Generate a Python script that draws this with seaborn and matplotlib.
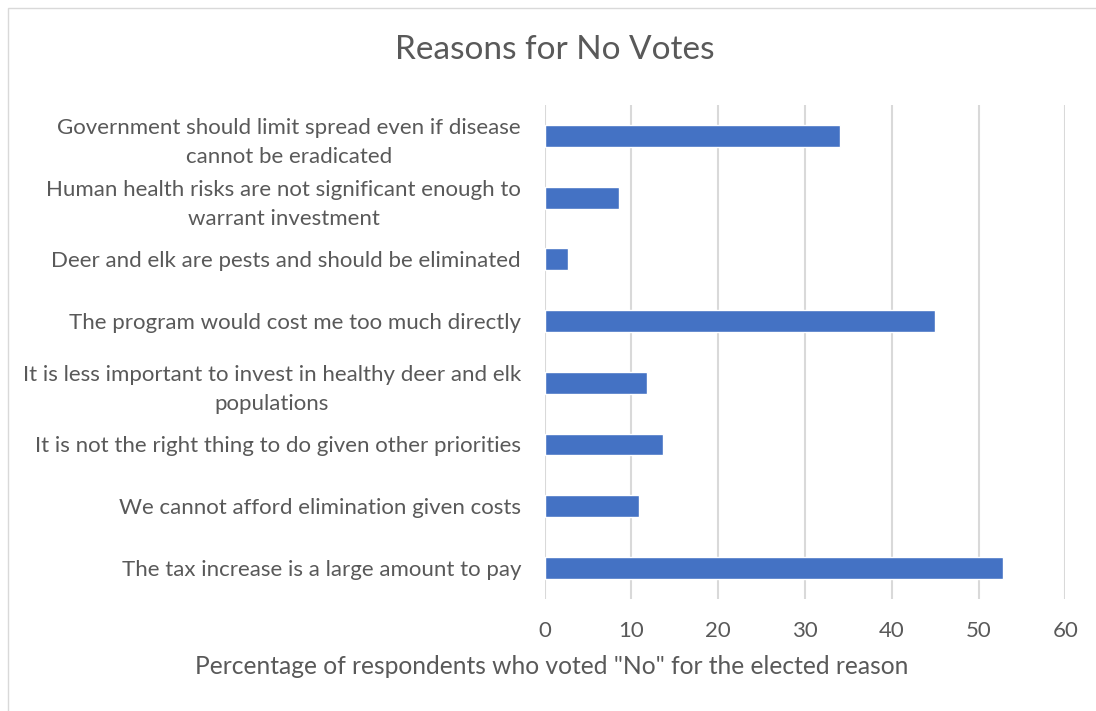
import matplotlib
matplotlib.use("Agg")
import matplotlib.pyplot as plt
import seaborn as sns
import pandas as pd
from matplotlib.patches import Rectangle

reasons = [
    "Government should limit spread even if disease\ncannot be eradicated",
    "Human health risks are not significant enough to\nwarrant investment",
    "Deer and elk are pests and should be eliminated",
    "The program would cost me too much directly",
    "It is less important to invest in healthy deer and elk\npopulations",
    "It is not the right thing to do given other priorities",
    "We cannot afford elimination given costs",
    "The tax increase is a large amount to pay",
]
percent = [34.0, 8.6, 2.7, 45.0, 11.8, 13.6, 10.9, 52.8]
x_ticks = [0, 10, 20, 30, 40, 50, 60]

df = pd.DataFrame({"reason": reasons, "percent": percent})

sns.set_theme(style="white")
plt.rcParams["font.family"] = ["Lato", "DejaVu Sans"]

text_color = "#595959"
fig = plt.figure(figsize=(10.96, 7.11), dpi=100)
ax = fig.add_axes([0.497, 0.158, 0.475, 0.694])

sns.barplot(data=df, x="percent", y="reason", orient="h", color="#4472C4",
            width=0.355, saturation=1, ax=ax, zorder=3)

ax.set_xlim(0, 60)
ax.set_xticks(x_ticks)
ax.set_ylim(len(reasons) - 0.5, -0.5)
ax.grid(axis="x", color="#d9d9d9", linewidth=1.5, zorder=0)
ax.grid(axis="y", visible=False)
for s in ax.spines.values():
    s.set_visible(False)
ax.tick_params(axis="both", length=0, colors=text_color, labelsize=16)
ax.tick_params(axis="x", pad=16)
ax.tick_params(axis="y", pad=17)
for t in ax.get_yticklabels():
    t.set_multialignment("center")
    t.set_linespacing(1.55)
    t.set_color(text_color)

ax.set_ylabel("")
ax.set_xlabel("")
fig.text(552 / 1096, 1 - 667 / 711,
         'Percentage of respondents who voted "No" for the elected reason',
         ha="center", va="center", fontsize=17.7, color=text_color)

fig.text(555 / 1096, 1 - 50 / 711, "Reasons for No Votes", ha="center",
         va="center", fontsize=24, color=text_color)

fig.patches.append(Rectangle((8 / 1096, -0.1), 1.2, (1 - 8 / 711) + 0.1,
                             transform=fig.transFigure, fill=False,
                             edgecolor="#d9d9d9", linewidth=1))

fig.savefig("out.png", dpi=100)
